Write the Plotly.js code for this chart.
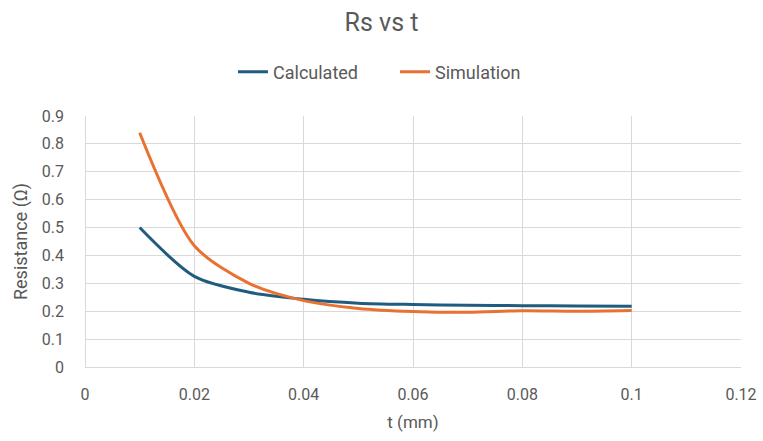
<!DOCTYPE html>
<html>
<head>
<meta charset="utf-8">
<script src="https://cdn.plot.ly/plotly-3.0.1.min.js"></script>
<style>
  html, body { margin: 0; padding: 0; background: #fff; }
  #chart { width: 763px; height: 441px; }
</style>
</head>
<body>
<div id="chart"></div>
<script>
// Sheet resistance against layer thickness
const thickness = [0.01, 0.02, 0.03, 0.04, 0.05, 0.06, 0.07, 0.08, 0.09, 0.1];
const calculated = [0.50, 0.325, 0.268, 0.243, 0.229, 0.224, 0.221, 0.220, 0.219, 0.218];
const simulation = [0.84, 0.435, 0.300, 0.238, 0.210, 0.199, 0.196, 0.202, 0.200, 0.203];
const seriesNames = ['Calculated', 'Simulation'];

const textColor = '#595959';
const gridColor = '#D9D9D9';

const traces = [
  {
    x: thickness, y: calculated, name: seriesNames[0],
    type: 'scatter', mode: 'lines',
    line: { color: '#1F5C80', width: 3, shape: 'spline', smoothing: 0.8 }
  },
  {
    x: thickness, y: simulation, name: seriesNames[1],
    type: 'scatter', mode: 'lines',
    line: { color: '#E97132', width: 3, shape: 'spline', smoothing: 0.8 }
  }
];

const layout = {
  width: 763, height: 441,
  margin: { l: 85, r: 22, t: 116, b: 74 },
  paper_bgcolor: '#fff', plot_bgcolor: '#fff',
  font: { family: 'Roboto, sans-serif', color: textColor, size: 15 },
  title: { text: 'Rs vs t', x: 0.5, xanchor: 'center', y: 0.95, yanchor: 'middle',
           font: { size: 25, color: textColor } },
  showlegend: true,
  legend: { orientation: 'h', x: 0.2256, xanchor: 'left', y: 1.175, yanchor: 'middle',
            font: { size: 18, color: textColor }, traceorder: 'normal',
            entrywidth: 117, entrywidthmode: 'pixels' },
  xaxis: {
    range: [0, 0.12], dtick: 0.02, tick0: 0,
    showgrid: true, gridcolor: gridColor, gridwidth: 1,
    zeroline: true, zerolinecolor: gridColor, zerolinewidth: 1,
    showline: false, ticks: '', ticklen: 0, ticklabelstandoff: 16,
    tickfont: { size: 16, color: textColor },
    title: { text: 't (mm)', font: { size: 17, color: textColor }, standoff: 13 }
  },
  yaxis: {
    range: [0, 0.9], dtick: 0.1, tick0: 0,
    showgrid: true, gridcolor: gridColor, gridwidth: 1,
    zeroline: true, zerolinecolor: gridColor, zerolinewidth: 1,
    showline: false, ticks: '', ticklen: 0, ticklabelstandoff: 20,
    tickfont: { size: 16, color: textColor },
    title: { text: 'Resistance (Ω)', font: { size: 18, color: textColor }, standoff: 9 }
  }
};

Plotly.newPlot('chart', traces, layout, { displayModeBar: false, staticPlot: true });
</script>
</body>
</html>
